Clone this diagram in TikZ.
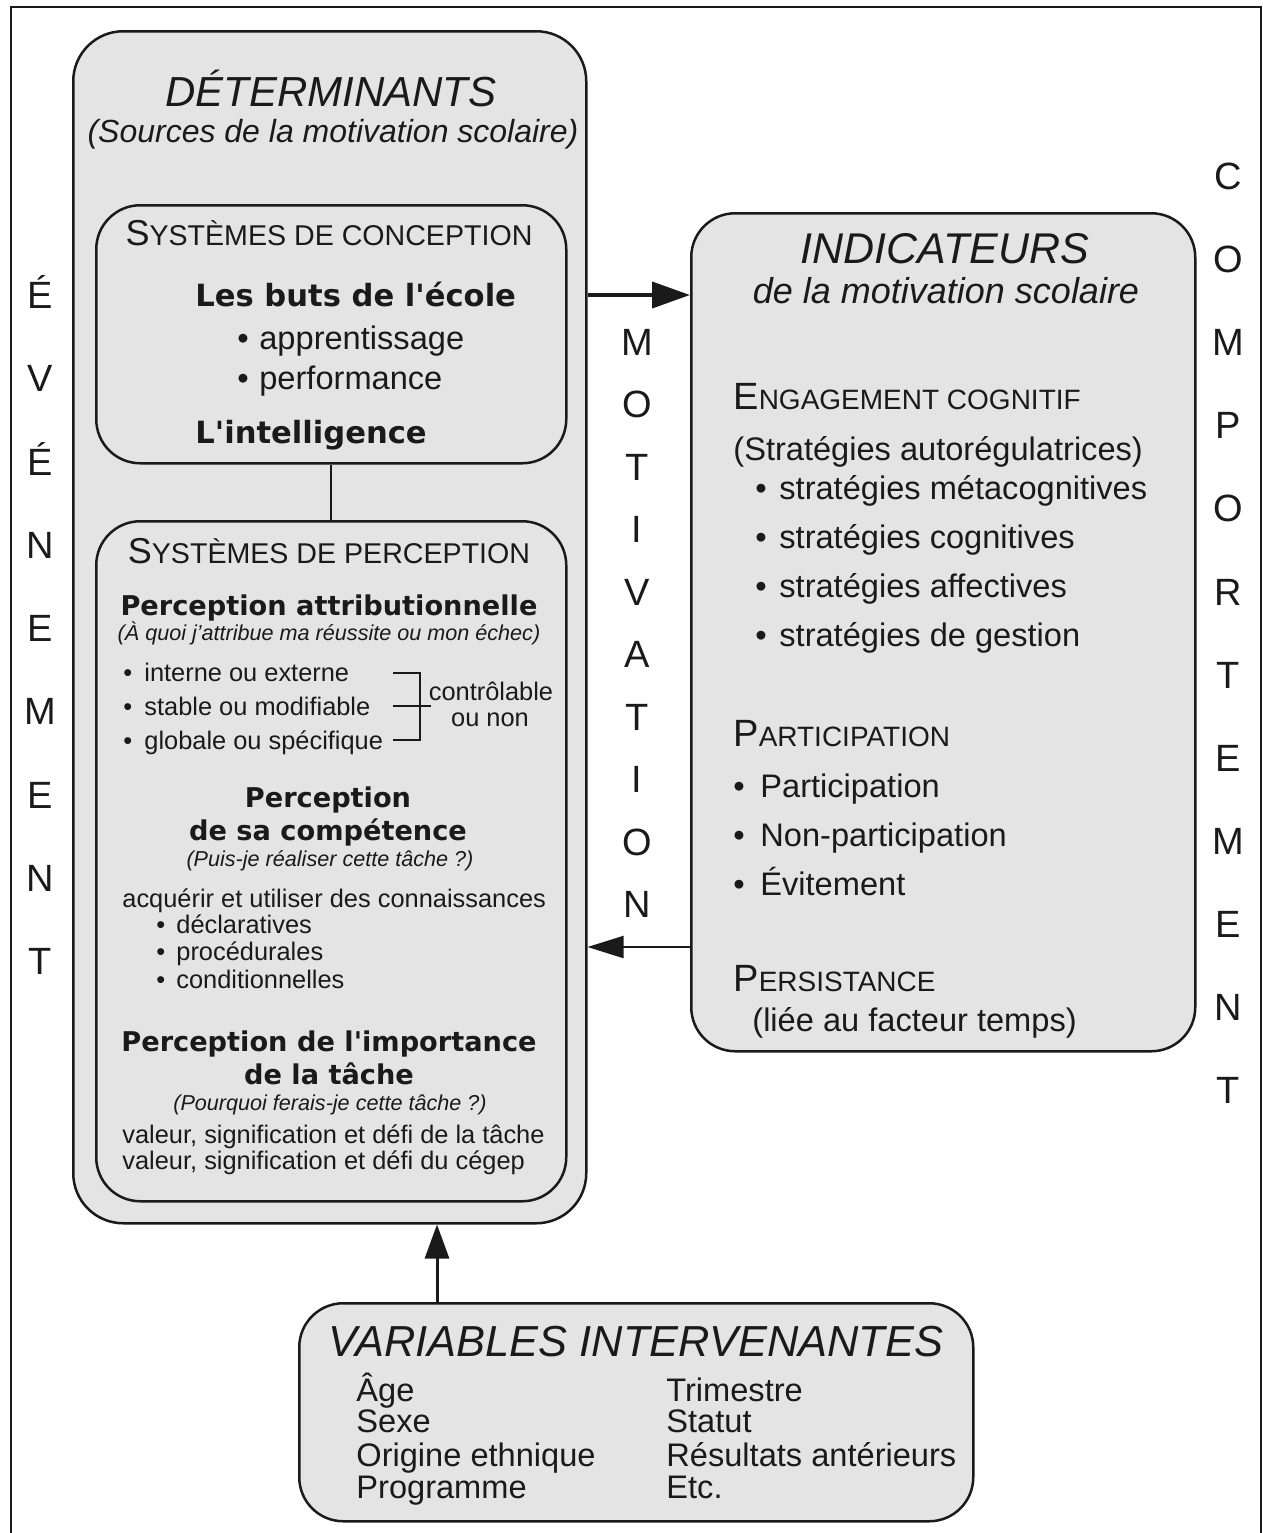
\documentclass[tikz,border=0pt]{standalone}
\usepackage{fontspec}
\setmainfont{Liberation Sans}
\newfontfamily\verd{DejaVu Sans}
\usetikzlibrary{arrows.meta}
\definecolor{boxfill}{HTML}{E4E4E4}
\definecolor{ink}{HTML}{1A1A1A}
\newcommand\fsz[1]{\fontsize{#1}{#1}\selectfont}
% fake small capitals: big first letter, smaller upper-case rest
\newcommand\mysc[4]{{\fsz{#1}#3}{\fsz{#2}#4}}
\begin{document}
\begin{tikzpicture}[x=0.5pt,y=-0.5pt,
  panel/.style={draw=ink,fill=boxfill,line width=1.25pt,rounded corners=#1,
    inner sep=0pt,anchor=north west},
  panel/.default=22pt,
  txt/.style={inner sep=0pt,text=ink},
  title/.style={txt,font=\itshape\fsz{21}},
  sub/.style={txt,font=\itshape\fsz{16}},
  boldL/.style={txt,font=\verd\bfseries\fsz{15.3}},
  boldS/.style={txt,font=\verd\bfseries\fsz{13.6}},
  note/.style={txt,font=\itshape\fsz{10.8}},
  small/.style={txt,font=\fsz{12.7}},
  body/.style={txt,font=\fsz{16.3}},
  vlet/.style={txt,font=\fsz{19},anchor=base},
  link/.style={draw=ink,line width=1pt},
  arr/.style={draw=ink,-{Triangle[length=18pt,width=11pt]}},
  brk/.style={draw=ink,line width=1pt}
]
\useasboundingbox (0,0) rectangle (1263,1533);

% page frame
\draw[ink,line width=1.2pt] (11,1545) -- (11,7) -- (1261,7) -- (1261,1545);

% ---------- panels ----------
\node[panel=25pt,minimum width=256.5pt,minimum height=596pt] (det) at (72,30) {};
\node[panel,minimum width=235pt,minimum height=129pt] (conc) at (95,204) {};
\node[panel,minimum width=235pt,minimum height=340pt] (perc) at (95,520) {};
\node[panel,minimum width=252pt,minimum height=419pt] (ind) at (690,212) {};
\node[panel,minimum width=337pt,minimum height=109pt] (var) at (298,1302) {};

% ---------- connectors ----------
\coordinate (yhi) at (0,295);
\coordinate (ylo) at (0,947);
\coordinate (xup) at (437,0);
\draw[link] (conc.south) -- (perc.north);
\draw[arr,line width=2pt,-{Triangle[length=19pt,width=13pt]}] (det.east |- yhi) -- (ind.west |- yhi);
\draw[arr,line width=1pt] (ind.west |- ylo) -- (det.east |- ylo);
\draw[arr,line width=1.5pt,-{Triangle[length=17pt,width=12pt]}] (var.north -| xup) -- (det.south -| xup);

% ---------- déterminants ----------
\node[title,anchor=mid] (detT) at (331,101) {DÉTERMINANTS};
\node[sub,anchor=mid] (detS) at (333,137) {(Sources de la motivation scolaire)};

\node[txt,anchor=mid] (concT) at (329,240) {\mysc{18}{14.3}{S}{YSTÈMES DE CONCEPTION}};
\node[boldL,anchor=mid west] (buts) at (195,301) {Les buts de l'école};
\node[body,anchor=mid west] (app) at (237,344) {\makebox[11pt][l]{•}apprentissage};
\node[body,anchor=mid west] (perf) at (237,384) {\makebox[11pt][l]{•}performance};
\node[boldL,anchor=mid west] (intel) at (195,438) {L'intelligence};

\node[txt,anchor=mid] (percT) at (329,558) {\mysc{18}{14.3}{S}{YSTÈMES DE PERCEPTION}};
\node[boldS,anchor=mid] (attr) at (329,610) {Perception attributionnelle};
\node[note,anchor=mid] (attrN) at (329,635) {(À quoi j'attribue ma réussite ou mon échec)};
\node[small,anchor=mid west] (a1) at (123,676) {\makebox[10.5pt][l]{•}interne ou externe};
\node[small,anchor=mid west] (a2) at (123,710) {\makebox[10.5pt][l]{•}stable ou modifiable};
\node[small,anchor=mid west] (a3) at (123,744) {\makebox[10.5pt][l]{•}globale ou spécifique};
\draw[brk] (393,673) -| (420,740) -- (393,740);
\draw[brk] (393,706) -- (431,706);
\node[small,anchor=mid] (ctrl) at (491,695) {contrôlable};
\node[small,anchor=mid] (ctrl2) at (490,721) {ou non};

\node[boldS,anchor=mid] (comp) at (328,802) {Perception};
\node[boldS,anchor=mid] (comp2) at (328,835) {de sa compétence};
\node[note,anchor=mid] (compN) at (330,861) {(Puis-je réaliser cette tâche ?)};
\node[small,anchor=mid west] (acq) at (122,902) {acquérir et utiliser des connaissances};
\node[small,anchor=mid west] (k1) at (156,928) {\makebox[10pt][l]{•}déclaratives};
\node[small,anchor=mid west] (k2) at (156,955) {\makebox[10pt][l]{•}procédurales};
\node[small,anchor=mid west] (k3) at (156,983) {\makebox[10pt][l]{•}conditionnelles};

\node[boldS,anchor=mid] (imp) at (329,1046) {Perception de l'importance};
\node[boldS,anchor=mid] (imp2) at (329,1079) {de la tâche};
\node[note,anchor=mid] (impN) at (330,1105) {(Pourquoi ferais-je cette tâche ?)};
\node[small,anchor=mid west] (v1) at (122,1138) {valeur, signification et défi de la tâche};
\node[small,anchor=mid west] (v2) at (122,1164) {valeur, signification et défi du cégep};

% ---------- indicateurs ----------
\node[title,font=\itshape\fsz{21.5},anchor=mid] (indT) at (945,258) {INDICATEURS};
\node[txt,font=\itshape\fsz{18},anchor=mid] (indS) at (946,298) {de la motivation scolaire};
\node[txt,anchor=mid west] (eng) at (733,404) {\mysc{19}{14}{E}{NGAGEMENT COGNITIF}};
\node[body,anchor=mid west] (strat) at (733,455) {(Stratégies autorégulatrices)};
\node[body,anchor=mid west] (s1) at (755,494) {\makebox[12pt][l]{•}stratégies métacognitives};
\node[body,anchor=mid west] (s2) at (755,543) {\makebox[12pt][l]{•}stratégies cognitives};
\node[body,anchor=mid west] (s3) at (755,592) {\makebox[12pt][l]{•}stratégies affectives};
\node[body,anchor=mid west] (s4) at (755,641) {\makebox[12pt][l]{•}stratégies de gestion};
\node[txt,anchor=mid west] (part) at (733,741) {\mysc{19}{14}{P}{ARTICIPATION}};
\node[body,anchor=mid west] (p1) at (733,792) {\makebox[13.5pt][l]{•}Participation};
\node[body,anchor=mid west] (p2) at (733,841) {\makebox[13.5pt][l]{•}Non-participation};
\node[body,anchor=mid west] (p3) at (733,890) {\makebox[13.5pt][l]{•}Évitement};
\node[txt,anchor=mid west] (pers) at (733,986) {\mysc{19}{14}{P}{ERSISTANCE}};
\node[body,anchor=mid west] (persN) at (752,1026) {(liée au facteur temps)};

% ---------- variables intervenantes ----------
\node[title,font=\itshape\fsz{21.7},anchor=mid] (varT) at (636,1351) {VARIABLES INTERVENANTES};
\node[body,anchor=mid west] (vl1) at (356,1396) {Âge};
\node[body,anchor=mid west] (vl2) at (356,1427) {Sexe};
\node[body,anchor=mid west] (vl3) at (356,1461) {Origine ethnique};
\node[body,anchor=mid west] (vl4) at (356,1493) {Programme};
\node[body,anchor=mid west] (vr1) at (666,1396) {Trimestre};
\node[body,anchor=mid west] (vr2) at (666,1427) {Statut};
\node[body,anchor=mid west] (vr3) at (666,1461) {Résultats antérieurs};
\node[body,anchor=mid west] (vr4) at (666,1493) {Etc.};

% ---------- vertical words ----------
\foreach \c [count=\i from 0] in {É,V,É,N,E,M,E,N,T}
  \node[vlet] (ev\i) at (40,{308.5+83.25*\i}) {\c};
\foreach \c [count=\i from 0] in {M,O,T,I,V,A,T,I,O,N}
  \node[vlet] (mo\i) at (637,{355.5+62.45*\i}) {\c};
\foreach \c [count=\i from 0] in {C,O,M,P,O,R,T,E,M,E,N,T}
  \node[vlet] (co\i) at (1228,{189.5+83.1*\i}) {\c};
\end{tikzpicture}
\end{document}
